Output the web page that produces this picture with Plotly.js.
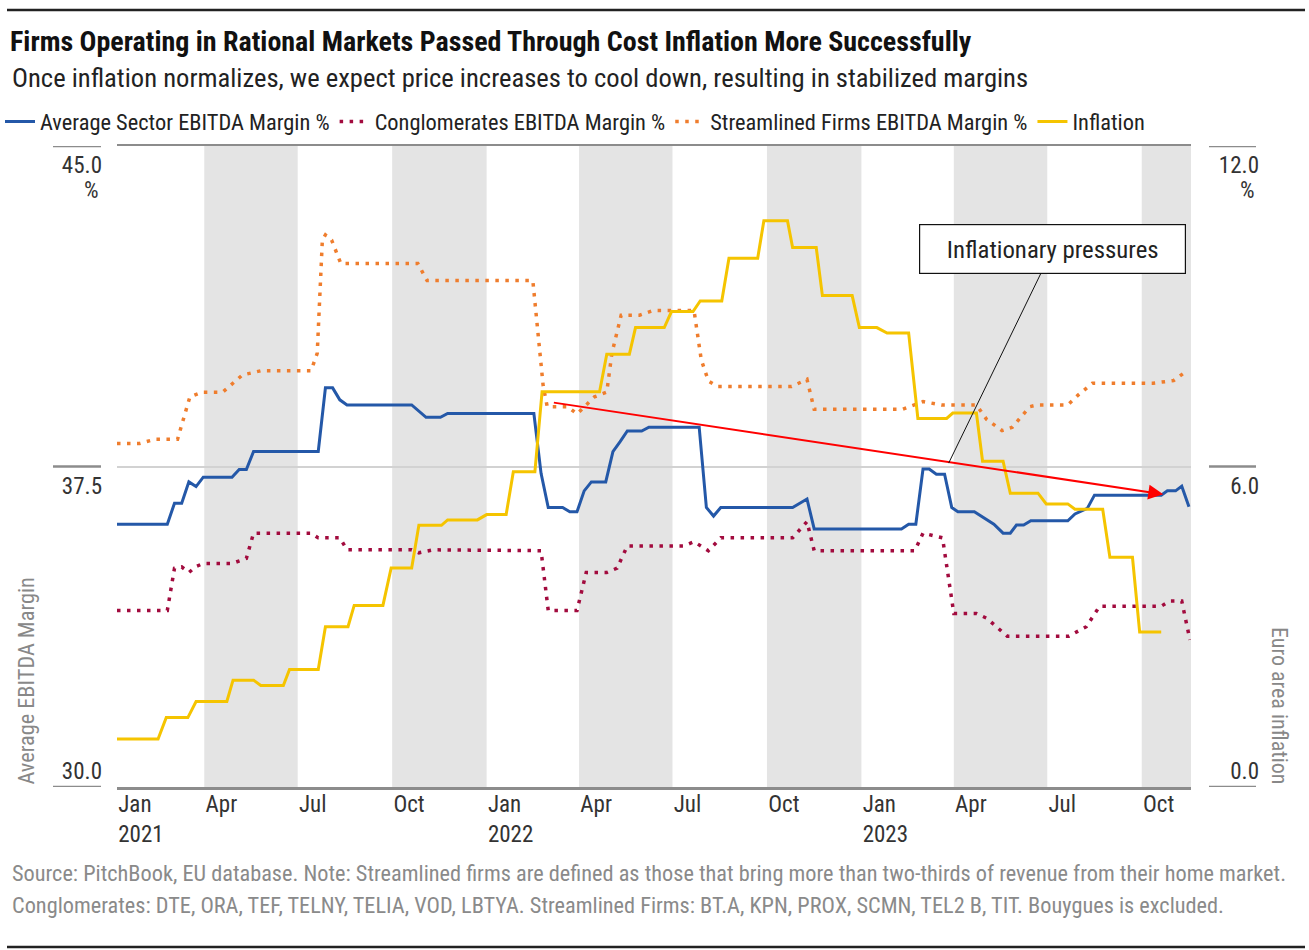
<!DOCTYPE html>
<html>
<head>
<meta charset="utf-8">
<script src="https://cdn.plot.ly/plotly-3.0.1.min.js"></script>
<style>html,body{margin:0;padding:0;background:#fff;}#chart{width:1309px;height:950px;}</style>
</head>
<body>
<div id="chart"></div>
<script>
// ---------------- DATA ----------------
const seriesNames = ['Average Sector EBITDA Margin %', 'Conglomerates EBITDA Margin %', 'Streamlined Firms EBITDA Margin %', 'Inflation'];

const avgDates = ['2021-01-06','2021-02-24','2021-03-03','2021-03-10','2021-03-17','2021-03-24','2021-03-31','2021-04-28','2021-05-05','2021-05-12','2021-05-19','2021-07-21','2021-07-28','2021-08-04','2021-08-11','2021-08-18','2021-10-20','2021-10-27','2021-11-03','2021-11-17','2021-11-24','2022-02-16','2022-02-23','2022-03-02','2022-03-16','2022-03-23','2022-03-30','2022-04-06','2022-04-13','2022-04-27','2022-05-04','2022-05-11','2022-05-18','2022-06-01','2022-06-08','2022-07-27','2022-08-03','2022-08-10','2022-08-17','2022-10-26','2022-11-09','2022-11-16','2023-02-09','2023-02-16','2023-02-23','2023-03-02','2023-03-08','2023-03-15','2023-03-23','2023-03-30','2023-04-05','2023-04-21','2023-05-10','2023-05-19','2023-05-26','2023-06-01','2023-06-08','2023-06-15','2023-07-21','2023-07-28','2023-08-09','2023-08-16','2023-10-20','2023-10-26','2023-11-03','2023-11-09','2023-11-16'];
const avgVals = [36.15,36.15,36.64,36.64,37.14,37.03,37.25,37.25,37.43,37.43,37.85,37.85,39.34,39.34,39.06,38.94,38.94,38.80,38.65,38.65,38.74,38.74,37.34,36.54,36.54,36.44,36.44,36.93,37.14,37.14,37.85,38.08,38.33,38.33,38.42,38.42,36.54,36.34,36.54,36.54,36.74,36.04,36.04,36.15,36.15,37.44,37.44,37.32,37.32,36.54,36.44,36.44,36.15,35.94,35.94,36.13,36.13,36.23,36.23,36.39,36.52,36.83,36.83,36.93,36.93,37.04,36.56];

const congDates = ['2021-01-06','2021-02-24','2021-03-03','2021-03-10','2021-03-17','2021-03-24','2021-03-31','2021-04-28','2021-05-12','2021-05-19','2021-07-14','2021-07-21','2021-08-11','2021-08-18','2021-10-20','2021-10-27','2021-11-10','2022-02-23','2022-03-02','2022-03-30','2022-04-08','2022-04-28','2022-05-08','2022-05-18','2022-07-12','2022-07-22','2022-08-05','2022-08-17','2022-10-26','2022-11-09','2022-11-16','2023-02-22','2023-03-02','2023-03-21','2023-04-01','2023-04-23','2023-05-03','2023-05-23','2023-07-22','2023-08-08','2023-08-21','2023-10-20','2023-10-28','2023-11-09','2023-11-17'];
const congVals = [34.13,34.13,35.12,35.15,35.02,35.16,35.23,35.23,35.35,35.94,35.94,35.83,35.83,35.55,35.55,35.48,35.55,35.53,34.13,34.13,35.02,35.02,35.12,35.64,35.64,35.74,35.53,35.83,35.83,36.21,35.53,35.53,35.94,35.83,34.06,34.06,33.95,33.53,33.53,33.75,34.23,34.23,34.35,34.35,33.44];

const streamDates = ['2021-01-06','2021-01-28','2021-02-13','2021-03-06','2021-03-18','2021-03-30','2021-04-19','2021-05-08','2021-05-26','2021-07-14','2021-07-20','2021-07-25','2021-07-28','2021-08-03','2021-08-12','2021-10-26','2021-11-04','2022-02-15','2022-02-25','2022-03-01','2022-03-21','2022-03-30','2022-04-16','2022-04-28','2022-05-03','2022-05-12','2022-05-30','2022-06-12','2022-07-22','2022-07-29','2022-08-05','2022-08-14','2022-10-25','2022-11-09','2022-11-16','2023-02-10','2023-03-02','2023-03-20','2023-04-23','2023-05-03','2023-05-18','2023-05-28','2023-06-14','2023-06-21','2023-07-21','2023-07-31','2023-08-14','2023-10-12','2023-11-01','2023-11-14'];
const streamVals = [38.04,38.04,38.14,38.14,39.13,39.24,39.24,39.64,39.74,39.74,40.15,42.80,42.92,42.80,42.25,42.25,41.85,41.85,39.40,38.90,38.90,38.73,39.13,39.24,40.15,41.04,41.04,41.15,41.15,40.00,39.50,39.37,39.37,39.54,38.84,38.84,39.02,38.94,38.94,38.60,38.34,38.42,38.90,38.94,38.94,39.17,39.45,39.45,39.51,39.74];

const inflDates = ['2021-01-06','2021-02-15','2021-02-23','2021-03-16','2021-03-24','2021-04-23','2021-04-29','2021-05-19','2021-05-26','2021-06-17','2021-06-23','2021-07-21','2021-07-28','2021-08-19','2021-08-25','2021-09-22','2021-09-30','2021-10-20','2021-10-27','2021-11-18','2021-11-24','2021-12-23','2022-01-01','2022-01-20','2022-01-27','2022-02-17','2022-02-24','2022-04-21','2022-04-28','2022-05-20','2022-05-26','2022-06-23','2022-06-30','2022-07-21','2022-07-28','2022-08-18','2022-08-25','2022-09-22','2022-09-28','2022-10-21','2022-10-26','2022-11-18','2022-11-24','2022-12-23','2022-12-30','2023-01-16','2023-01-26','2023-02-16','2023-02-25','2023-03-25','2023-03-31','2023-04-23','2023-04-29','2023-05-19','2023-05-26','2023-06-22','2023-06-30','2023-07-21','2023-07-28','2023-08-24','2023-08-31','2023-09-22','2023-09-29','2023-10-20'];
const inflVals = [0.9,0.9,1.3,1.3,1.6,1.6,2.0,2.0,1.9,1.9,2.2,2.2,3.0,3.0,3.4,3.4,4.1,4.1,4.9,4.9,5.0,5.0,5.1,5.1,5.9,5.9,7.4,7.4,8.1,8.1,8.6,8.6,8.9,8.9,9.1,9.1,9.9,9.9,10.6,10.6,10.1,10.1,9.2,9.2,8.6,8.6,8.5,8.5,6.9,6.9,7.0,7.0,6.1,6.1,5.5,5.5,5.3,5.3,5.2,5.2,4.3,4.3,2.9,2.9];

const xRange = ['2021-01-06', '2023-11-18'];
const bandStarts = ['2021-04-01','2021-10-01','2022-04-01','2022-10-01','2023-04-01','2023-10-01'];
const bandEnds   = ['2021-07-01','2022-01-01','2022-07-01','2023-01-01','2023-07-01','2023-11-18'];
const xTickVals = ['2021-01-06','2021-04-01','2021-07-01','2021-10-01','2022-01-01','2022-04-01','2022-07-01','2022-10-01','2023-01-01','2023-04-01','2023-07-01','2023-10-01'];
const xTickText = ['Jan<br>2021','Apr','Jul','Oct','Jan<br>2022','Apr','Jul','Oct','Jan<br>2023','Apr','Jul','Oct'];

const leftRange = [30, 45];
const leftTicks = [30, 37.5, 45];
const rightRange = [0, 12];
const rightTicks = [0, 6, 12];
const unitLabel = '%';

const arrowFrom = {x: '2022-03-06', y: 39.0};
const arrowTo = {x: '2023-10-22', y: 36.85};
const calloutPoint = {x: '2023-03-27', y: 37.58};

// ---------------- STYLE ----------------
const FONT = '"Liberation Sans Narrow", "Roboto Condensed", "DejaVu Sans Condensed", "Arial Narrow", "Liberation Sans", sans-serif';
const W = 1309, H = 950;
const M = {l: 40, r: 39, t: 146, b: 163};
const PW = W - M.l - M.r, PH = H - M.t - M.b;
const px2x = p => (p - M.l) / PW;      // paper x from pixel
const py2y = p => (H - M.b - p) / PH;  // paper y from pixel

const cBlue = '#2458A8', cMaroon = '#A20B3E', cOrange = '#EF7D2D', cYellow = '#F5C400';
const axisGray = '#8c8c8c';

const traces = [
  {x: avgDates, y: avgVals, name: seriesNames[0], type: 'scatter', mode: 'lines', line: {color: cBlue, width: 3}, yaxis: 'y', hoverinfo: 'skip'},
  {x: congDates, y: congVals, name: seriesNames[1], type: 'scatter', mode: 'lines', line: {color: cMaroon, width: 3.5, dash: '3.5px,6.5px'}, yaxis: 'y', hoverinfo: 'skip'},
  {x: streamDates, y: streamVals, name: seriesNames[2], type: 'scatter', mode: 'lines', line: {color: cOrange, width: 3.5, dash: '3.5px,6.5px'}, yaxis: 'y', hoverinfo: 'skip'},
  {x: inflDates, y: inflVals, name: seriesNames[3], type: 'scatter', mode: 'lines', line: {color: cYellow, width: 3}, yaxis: 'y2', hoverinfo: 'skip'},
  {x: [], y: [], yaxis: 'y3', showlegend: false, hoverinfo: 'skip', type: 'scatter', mode: 'lines'},
  {x: [], y: [], yaxis: 'y4', showlegend: false, hoverinfo: 'skip', type: 'scatter', mode: 'lines'}
];

const fmt1 = v => v.toFixed(1);
function tickFontCopy() { return {family: FONT, size: 23, color: '#333'}; }
const tickFont = tickFontCopy();

const shapes = [];
bandStarts.forEach((s, i) => shapes.push({type: 'rect', xref: 'x', yref: 'paper', x0: s, x1: bandEnds[i], y0: 0, y1: 1, fillcolor: '#e4e4e4', line: {width: 0}, layer: 'below'}));
leftTicks.forEach(v => shapes.push({type: 'line', xref: 'paper', yref: 'y', x0: px2x(53), x1: px2x(101), y0: v, y1: v, line: {color: axisGray, width: 2.5}}));
rightTicks.forEach(v => shapes.push({type: 'line', xref: 'paper', yref: 'y2', x0: px2x(1209), x1: px2x(1256), y0: v, y1: v, line: {color: axisGray, width: 2.5}}));
shapes.push({type: 'line', xref: 'paper', yref: 'paper', x0: px2x(7), x1: px2x(1305), y0: py2y(10), y1: py2y(10), line: {color: '#222', width: 2.5}});
shapes.push({type: 'line', xref: 'paper', yref: 'paper', x0: px2x(7), x1: px2x(1305), y0: py2y(947), y1: py2y(947), line: {color: '#222', width: 2.5}});

const annotations = [
  {xref: 'paper', yref: 'paper', x: px2x(10), y: py2y(78), xanchor: 'left', yanchor: 'middle', showarrow: false,
   text: 'Once inflation normalizes, we expect price increases to cool down, resulting in stabilized margins',
   font: {family: FONT, size: 26.6, color: '#222'}},
  {xref: 'paper', yref: 'paper', x: px2x(10), y: py2y(873), xanchor: 'left', yanchor: 'middle', showarrow: false,
   text: 'Source: PitchBook, EU database. Note: Streamlined firms are defined as those that bring more than two-thirds of revenue from their home market.',
   font: {family: FONT, size: 22.3, color: '#8a8a8a'}},
  {xref: 'paper', yref: 'paper', x: px2x(10), y: py2y(905), xanchor: 'left', yanchor: 'middle', showarrow: false,
   text: 'Conglomerates: DTE, ORA, TEF, TELNY, TELIA, VOD, LBTYA. Streamlined Firms: BT.A, KPN, PROX, SCMN, TEL2 B, TIT. Bouygues is excluded.',
   font: {family: FONT, size: 22.3, color: '#8a8a8a'}},
  {xref: 'paper', yref: 'y', x: px2x(25), y: 30, xanchor: 'center', yanchor: 'bottom', textangle: -90, showarrow: false,
   text: 'Average EBITDA Margin', font: {family: FONT, size: 22.3, color: '#888'}},
  {xref: 'paper', yref: 'y2', x: px2x(1280), y: 0, xanchor: 'center', yanchor: 'bottom', textangle: 90, showarrow: false,
   text: 'Euro area inflation', font: {family: FONT, size: 22, color: '#888'}},
  {xref: 'paper', yref: 'y', x: px2x(101), y: leftTicks[2], yshift: -44, xanchor: 'right', yanchor: 'middle', showarrow: false,
   text: unitLabel, font: tickFontCopy()},
  {xref: 'paper', yref: 'y2', x: px2x(1257), y: rightTicks[2], yshift: -44, xanchor: 'right', yanchor: 'middle', showarrow: false,
   text: unitLabel, font: tickFontCopy()},
  {xref: 'x', yref: 'y', x: arrowTo.x, y: arrowTo.y, axref: 'x', ayref: 'y', ax: arrowFrom.x, ay: arrowFrom.y,
   text: '', showarrow: true, arrowhead: 2, arrowsize: 1.5, arrowwidth: 2, arrowcolor: '#ff0000'},
  {xref: 'x', yref: 'y', x: calloutPoint.x, y: calloutPoint.y, ax: 104, ay: -214,
   text: 'Inflationary pressures', showarrow: true, arrowhead: 0, arrowwidth: 1, arrowcolor: '#111',
   bordercolor: '#111', borderwidth: 1.2, bgcolor: '#fff', width: 263, height: 46, borderpad: 1,
   font: {family: FONT, size: 24.8, color: '#222'}}
];

const layout = {
  width: W, height: H,
  margin: M,
  paper_bgcolor: '#fff', plot_bgcolor: '#fff',
  showlegend: true,
  hovermode: false,
  title: {
    text: '<b>Firms Operating in Rational Markets Passed Through Cost Inflation More Successfully</b>',
    xref: 'container', yref: 'container', x: 10 / W, y: 1 - 41 / H, xanchor: 'left', yanchor: 'middle',
    font: {family: FONT, size: 28, color: '#111'}
  },
  legend: {
    orientation: 'h', xref: 'container', yref: 'container', x: -4 / W, y: 1 - 122 / H, xanchor: 'left', yanchor: 'middle',
    font: {family: FONT, size: 22.4, color: '#222'}, itemwidth: 30, traceorder: 'normal', bgcolor: 'rgba(0,0,0,0)'
  },
  xaxis: {
    type: 'date', range: xRange, domain: [px2x(117), px2x(1191)],
    showgrid: false, zeroline: false,
    showline: true, linecolor: axisGray, linewidth: 2.5, mirror: true,
    ticks: '', tickvals: xTickVals, ticktext: xTickText,
    ticklabelposition: 'outside right', ticklabelstandoff: -5, tickfont: tickFont
  },
  yaxis: {
    range: leftRange, anchor: 'free', position: px2x(102), side: 'left',
    tickvals: leftTicks.slice(1), ticktext: leftTicks.slice(1).map(fmt1),
    ticklabelposition: 'outside bottom', ticklabelshift: 3, tickfont: tickFont,
    showgrid: true, gridcolor: '#d2d2d2', gridwidth: 2, zeroline: false, showline: false, ticks: ''
  },
  yaxis3: {
    range: leftRange, anchor: 'free', position: px2x(102), side: 'left', overlaying: 'y',
    tickvals: [leftTicks[0]], ticktext: [fmt1(leftTicks[0])],
    ticklabelposition: 'outside top', tickfont: tickFont,
    showgrid: false, zeroline: false, showline: false, ticks: ''
  },
  yaxis2: {
    range: rightRange, anchor: 'free', position: px2x(1259), side: 'left', overlaying: 'y',
    tickvals: rightTicks.slice(1), ticktext: rightTicks.slice(1).map(fmt1),
    ticklabelposition: 'outside bottom', ticklabelshift: 3, tickfont: tickFont,
    showgrid: false, zeroline: false, showline: false, ticks: ''
  },
  yaxis4: {
    range: rightRange, anchor: 'free', position: px2x(1259), side: 'left', overlaying: 'y',
    tickvals: [rightTicks[0]], ticktext: [fmt1(rightTicks[0])],
    ticklabelposition: 'outside top', tickfont: tickFont,
    showgrid: false, zeroline: false, showline: false, ticks: ''
  },
  shapes: shapes,
  annotations: annotations
};

Plotly.newPlot('chart', traces, layout, {staticPlot: true, displayModeBar: false});
</script>
</body>
</html>
